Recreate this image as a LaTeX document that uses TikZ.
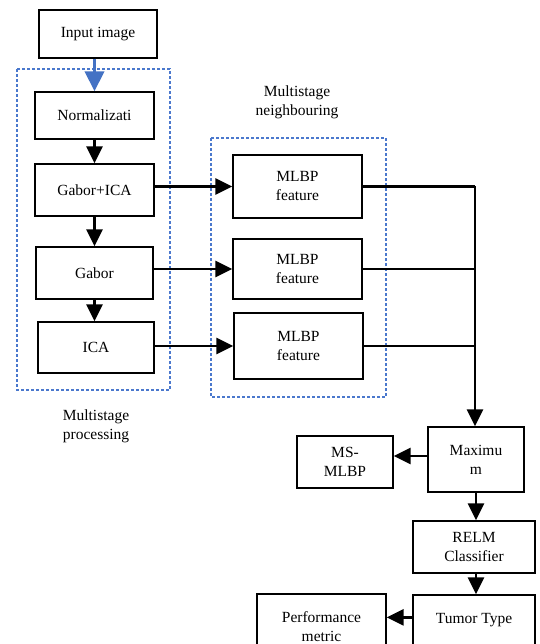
\documentclass[tikz,border=0pt]{standalone}
\usepackage{fontspec}
\setmainfont{Liberation Serif}
\usetikzlibrary{arrows.meta,calc}
\definecolor{dashblue}{RGB}{68,114,196}
\definecolor{grpblue}{RGB}{74,120,205}
\begin{document}
\begin{tikzpicture}[x=1pt,y=-1pt,
  every node/.style={font=\fontsize{15.5}{19}\selectfont, align=center},
  blk/.style={draw, line width=1.3pt, inner sep=0pt},
  arr/.style={line width=2.6pt, -{Triangle[length=17pt,width=16pt]}},
  bus/.style={line width=2.2pt},
  grp/.style={draw=grpblue, line width=1.2pt, dash pattern=on 3pt off 2pt}]
\clip (0,0) rectangle (539,644);
\fill[white] (0,0) rectangle (539,644);
% groups
\draw[grp] (17,69) rectangle (170,390);
\draw[grp] (211,138) rectangle (386,397);
\node (lblp) at (96,426) {Multistage\\processing};
\node (lbln) at (297,102.5) {Multistage\\neighbouring};
% nodes
\node[blk, minimum width=118pt, minimum height=48pt] (inp) at (98,34) {Input image};
\node[blk, minimum width=119pt, minimum height=47pt] (norm) at (94.5,115.5) {Normalizati};
\node[blk, minimum width=119pt, minimum height=52pt] (gi) at (94.5,190) {Gabor+ICA};
\node[blk, minimum width=117pt, minimum height=52pt] (gab) at (94.5,273) {Gabor};
\node[blk, minimum width=116pt, minimum height=51pt] (ica) at (96,347.5) {ICA};
\node[blk, minimum width=129pt, minimum height=63pt] (m1) at (297.5,186.5) {MLBP\\feature};
\node[blk, minimum width=129pt, minimum height=60pt] (m2) at (297.5,269) {MLBP\\feature};
\node[blk, minimum width=129pt, minimum height=66pt] (m3) at (298.5,346) {MLBP\\feature};
\node[blk, minimum width=96pt, minimum height=65pt] (max) at (476,459.5) {Maximu\\m};
\node[blk, minimum width=96pt, minimum height=52pt] (ms) at (345,462) {MS-\\MLBP};
\node[blk, minimum width=122pt, minimum height=52pt] (relm) at (474,547) {RELM\\Classifier};
\node[blk, minimum width=122pt, minimum height=66pt] (tum) at (474,628) {Tumor Type\\\mbox{}};
\node[blk, minimum width=129pt, minimum height=66pt] (perf) at (321.5,627) {Performance\\metric};
% connectors
\draw[line width=3.5pt, draw=dashblue, -{Triangle[length=20pt,width=19pt]}, dashblue] (norm.north |- inp.south) -- (norm.north);
\draw[arr] (norm.south) -- (gi.north);
\draw[arr] (gi.south) -- (gab.north);
\draw[arr] (gab.south) -- (gab.south |- ica.north);
\draw[arr] (gi.east |- m1) -- (m1.west);
\draw[arr] (gab.east |- m2) -- (m2.west);
\draw[arr] (ica.east |- m3) -- (m3.west);
\coordinate (busx) at (475,0);
\draw[bus] (m1.east) -- (m1.east -| busx);
\draw[arr] (m1.east -| busx) -- (busx |- max.north);
\draw[bus] (m2.east) -- (m2.east -| busx);
\draw[bus] (m3.east) -- (m3.east -| busx);
\coordinate (mw) at ([yshift=3.5pt]max.west);
\draw[arr] (mw) -- (mw -| ms.east);
\draw[arr] (max.south) -- (max.south |- relm.north);
\draw[arr] (max.south |- relm.south) -- (max.south |- tum.north);
\coordinate (tw) at ([yshift=-23pt]tum.north west);
\draw[arr] (tw) -- (tw -| perf.east);
\end{tikzpicture}
\end{document}
